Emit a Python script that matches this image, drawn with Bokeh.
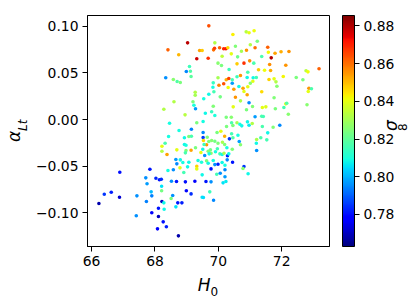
import numpy as np
from bokeh.plotting import figure
from bokeh.models import ColumnDataSource, LinearColorMapper, ColorBar, FixedTicker, LinearAxis
from bokeh.embed import file_html
from bokeh.resources import INLINE

h0 = [68.41, 68.34, 68.28, 68.46, 69.70, 69.03, 69.41, 69.49, 69.85, 69.88, 70.04, 70.17, 70.24, 70.30, 70.46, 70.88, 70.97, 69.89, 68.75, 69.32,
      69.68, 70.12, 70.41, 70.54, 70.73, 70.89, 70.61, 69.99, 70.10, 70.59, 70.81, 70.99, 69.09, 68.99, 69.12, 69.14, 68.58, 68.70, 68.80, 70.34,
      70.93, 69.99, 70.25, 70.33, 70.44, 70.59, 70.70, 70.91, 69.84, 70.44, 69.83, 70.02, 70.17, 70.31, 70.49, 70.65, 70.78, 70.93, 69.27, 69.27,
      69.70, 69.86, 70.81, 70.91, 70.54, 70.06, 69.54, 70.70, 70.97, 68.60, 69.20, 69.23, 69.84, 70.47, 70.89, 69.28, 68.95, 69.59, 69.79, 69.89,
      70.25, 70.41, 70.42, 70.46, 70.59, 70.68, 70.74, 70.92, 70.97, 69.32, 69.52, 68.76, 69.15, 70.08, 70.26, 71.13, 71.23, 71.01, 71.56, 71.16,
      71.58, 71.79, 71.98, 72.23, 71.37, 71.67, 71.12, 71.62, 72.13, 71.27, 71.46, 71.65, 72.77, 72.83, 73.18, 71.10, 71.20, 72.05, 71.60, 71.76,
      72.46, 72.67, 71.09, 71.01, 71.82, 71.85, 72.86, 72.94, 72.84, 71.37, 71.76, 72.13, 72.16, 72.07, 72.80, 71.39, 71.50, 71.08, 71.80, 72.21,
      71.16, 71.37, 71.42, 71.07, 71.94, 71.73, 71.39, 68.43, 68.32, 68.22, 68.22, 68.38, 68.41, 67.84, 66.89, 67.71, 68.03, 68.14, 68.20, 67.75,
      68.21, 68.21, 67.88, 67.90, 66.62, 66.40, 66.88, 67.43, 67.73, 68.22, 68.28, 66.23, 68.11, 68.29, 67.90, 67.41, 68.11, 68.26, 68.36, 68.08,
      68.93, 69.07, 69.15, 69.52, 69.96, 69.65, 69.52, 70.20, 70.42, 70.46, 70.62, 70.35, 69.53, 69.63, 69.55, 69.70, 69.79, 69.89, 69.99, 70.13,
      70.20, 70.66, 70.70, 68.93, 68.98, 69.28, 68.69, 68.98, 68.96, 69.14, 69.45, 69.51, 69.68, 69.75, 69.77, 69.91, 69.97, 70.05, 70.12, 70.18,
      70.27, 70.29, 70.33, 70.44, 69.57, 69.71, 68.66, 68.80, 68.88, 69.07, 69.36, 69.47, 69.63, 69.68, 69.84, 69.89, 69.99, 70.12, 70.21, 70.28,
      70.45, 68.69, 69.32, 69.32, 69.03, 68.79, 68.58, 69.77, 68.91, 69.49, 69.95, 70.06, 70.21, 70.81, 70.78, 70.94, 70.21, 68.52, 68.68, 68.96,
      69.26, 69.61, 69.77, 70.15, 70.24, 68.99, 69.14, 69.73, 68.56, 68.51, 69.49, 69.53, 69.85, 68.72, 68.85, 68.66, 68.74, 71.56, 71.34, 71.21,
      71.53, 71.20, 71.21]

alpha_lt = [0.0747, 0.0447, 0.0110, -0.0040, 0.1004, 0.0822, 0.0740, 0.0740, 0.0747, 0.0764, 0.0769, 0.0758, 0.0758, 0.0769, 0.0911, 0.0940, 0.0930, 0.0822, 0.0694, 0.0651,
            0.0657, 0.0679, 0.0704, 0.0786, 0.0732, 0.0743, 0.0672, 0.0604, 0.0579, 0.0597, 0.0604, 0.0629, 0.0568, 0.0515, 0.0518, 0.0461, 0.0429, 0.0407, 0.0397, 0.0536,
            0.0507, 0.0447, 0.0426, 0.0440, 0.0426, 0.0458, 0.0472, 0.0450, 0.0393, 0.0389, 0.0346, 0.0368, 0.0383, 0.0343, 0.0325, 0.0354, 0.0336, 0.0351, 0.0293, 0.0260,
            0.0271, 0.0297, 0.0300, 0.0265, 0.0239, 0.0243, 0.0222, 0.0200, 0.0179, 0.0190, 0.0190, 0.0153, 0.0143, 0.0136, 0.0104, 0.0115, 0.0050, 0.0068, 0.0083, 0.0043,
            0.0025, 0.0025, -0.0035, -0.0064, -0.0035, -0.0050, -0.0068, -0.0025, -0.0061, -0.0035, -0.0021, -0.0118, -0.0104, -0.0125, -0.0075, 0.0951, 0.0839, 0.0801, 0.0775, 0.0769,
            0.0721, 0.0711, 0.0726, 0.0729, 0.0675, 0.0661, 0.0604, 0.0590, 0.0582, 0.0533, 0.0529, 0.0525, 0.0522, 0.0511, 0.0544, 0.0447, 0.0450, 0.0461, 0.0429, 0.0436,
            0.0450, 0.0426, 0.0411, 0.0389, 0.0404, 0.0357, 0.0336, 0.0329, 0.0300, 0.0297, 0.0233, 0.0168, 0.0175, 0.0129, 0.0158, 0.0129, 0.0136, 0.0139, 0.0115, 0.0057,
            0.0029, 0.0035, 0.0032, -0.0043, -0.0061, -0.0083, -0.0075, -0.0182, -0.0254, -0.0286, -0.0340, -0.0375, -0.0547, -0.0533, -0.0565, -0.0625, -0.0629, -0.0646, -0.0640, -0.0689,
            -0.0715, -0.0764, -0.0775, -0.0818, -0.0779, -0.0801, -0.0833, -0.0818, -0.0879, -0.0879, -0.0893, -0.0900, -0.0951, -0.0962, -0.1000, -0.1032, -0.1040, -0.1097, -0.1150, -0.1172,
            -0.0196, -0.0182, -0.0179, -0.0139, -0.0139, -0.0190, -0.0193, -0.0179, -0.0153, -0.0196, -0.0168, -0.0207, -0.0225, -0.0271, -0.0268, -0.0236, -0.0225, -0.0233, -0.0254, -0.0243,
            -0.0268, -0.0236, -0.0271, -0.0268, -0.0276, -0.0303, -0.0325, -0.0332, -0.0357, -0.0329, -0.0354, -0.0318, -0.0340, -0.0325, -0.0361, -0.0346, -0.0314, -0.0368, -0.0375, -0.0361,
            -0.0303, -0.0389, -0.0368, -0.0318, -0.0386, -0.0368, -0.0429, -0.0432, -0.0461, -0.0458, -0.0440, -0.0458, -0.0443, -0.0468, -0.0440, -0.0483, -0.0479, -0.0461, -0.0490, -0.0432,
            -0.0458, -0.0475, -0.0501, -0.0529, -0.0507, -0.0518, -0.0539, -0.0529, -0.0568, -0.0593, -0.0586, -0.0576, -0.0539, -0.0504, -0.0525, -0.0582, -0.0614, -0.0661, -0.0665, -0.0668,
            -0.0661, -0.0665, -0.0668, -0.0679, -0.0665, -0.0764, -0.0797, -0.0775, -0.0815, -0.0847, -0.0833, -0.0836, -0.0865, -0.0893, -0.0893, -0.0936, -0.1247, -0.0143, -0.0196, -0.0214,
            -0.0218, -0.0254, -0.0332]

sigma8 = [0.862, 0.796, 0.832, 0.809, 0.864, 0.879, 0.853, 0.848, 0.860, 0.866, 0.862, 0.870, 0.872, 0.846, 0.843, 0.833, 0.840, 0.832, 0.851, 0.877,
          0.868, 0.834, 0.840, 0.825, 0.830, 0.855, 0.822, 0.826, 0.824, 0.848, 0.868, 0.856, 0.815, 0.795, 0.818, 0.819, 0.826, 0.818, 0.824, 0.815,
          0.817, 0.830, 0.852, 0.866, 0.816, 0.815, 0.855, 0.808, 0.814, 0.797, 0.809, 0.857, 0.864, 0.841, 0.854, 0.808, 0.853, 0.840, 0.832, 0.830,
          0.808, 0.816, 0.840, 0.853, 0.855, 0.823, 0.809, 0.831, 0.795, 0.832, 0.824, 0.810, 0.825, 0.840, 0.824, 0.797, 0.833, 0.808, 0.814, 0.810,
          0.824, 0.826, 0.817, 0.824, 0.830, 0.809, 0.808, 0.808, 0.807, 0.824, 0.809, 0.809, 0.794, 0.840, 0.824, 0.841, 0.824, 0.832, 0.862, 0.860,
          0.842, 0.853, 0.852, 0.855, 0.817, 0.880, 0.817, 0.856, 0.855, 0.848, 0.841, 0.852, 0.833, 0.841, 0.862, 0.808, 0.816, 0.842, 0.847, 0.840,
          0.824, 0.824, 0.840, 0.826, 0.832, 0.826, 0.855, 0.817, 0.840, 0.846, 0.825, 0.840, 0.818, 0.816, 0.826, 0.840, 0.839, 0.825, 0.824, 0.826,
          0.797, 0.817, 0.816, 0.832, 0.795, 0.825, 0.817, 0.809, 0.817, 0.840, 0.832, 0.853, 0.809, 0.781, 0.780, 0.796, 0.783, 0.781, 0.784, 0.797,
          0.806, 0.823, 0.801, 0.794, 0.782, 0.785, 0.772, 0.796, 0.794, 0.770, 0.808, 0.768, 0.781, 0.808, 0.778, 0.796, 0.770, 0.780, 0.782, 0.777,
          0.808, 0.825, 0.817, 0.795, 0.824, 0.825, 0.785, 0.852, 0.816, 0.818, 0.809, 0.785, 0.846, 0.855, 0.815, 0.824, 0.826, 0.823, 0.825, 0.831,
          0.825, 0.797, 0.826, 0.808, 0.809, 0.824, 0.840, 0.825, 0.817, 0.853, 0.840, 0.808, 0.825, 0.823, 0.826, 0.809, 0.816, 0.816, 0.808, 0.831,
          0.809, 0.783, 0.808, 0.825, 0.796, 0.809, 0.797, 0.808, 0.809, 0.808, 0.809, 0.810, 0.824, 0.808, 0.809, 0.796, 0.782, 0.808, 0.809, 0.795,
          0.781, 0.795, 0.847, 0.840, 0.808, 0.840, 0.796, 0.780, 0.816, 0.808, 0.816, 0.796, 0.795, 0.785, 0.826, 0.808, 0.797, 0.796, 0.781, 0.780,
          0.778, 0.781, 0.796, 0.806, 0.807, 0.779, 0.784, 0.815, 0.796, 0.824, 0.806, 0.805, 0.795, 0.781, 0.782, 0.806, 0.768, 0.808, 0.817, 0.831,
          0.816, 0.808, 0.796]

x_ticks = [66, 68, 70, 72]
x_tick_labels = ["66", "68", "70", "72"]
y_ticks = [-0.10, -0.05, 0.00, 0.05, 0.10]
y_tick_labels = ["\u22120.10", "\u22120.05", "0.00", "0.05", "0.10"]
cb_ticks = [0.78, 0.80, 0.82, 0.84, 0.86, 0.88]
cb_tick_labels = ["0.78", "0.80", "0.82", "0.84", "0.86", "0.88"]
sigma8_low, sigma8_high = 0.763, 0.8855
x_lim = (65.87, 73.51)
y_lim = (-0.1361, 0.1115)


def jet_palette(n=256):
    t = np.linspace(0, 1, n)
    r = np.interp(t, [0, 0.35, 0.66, 0.89, 1], [0, 0, 1, 1, 0.5])
    g = np.interp(t, [0, 0.125, 0.375, 0.64, 0.91, 1], [0, 0, 1, 1, 0, 0])
    b = np.interp(t, [0, 0.11, 0.34, 0.65, 1], [0.5, 1, 1, 0, 0])
    return ["#%02x%02x%02x" % (int(round(255 * a)), int(round(255 * c)), int(round(255 * d)))
            for a, c, d in zip(r, g, b)]


FONT = "DejaVu Sans"
TICK_SIZE = "13.9px"
NB = "\u00a0"

source = ColumnDataSource(dict(h0=h0, alpha=alpha_lt, s8=sigma8))
mapper = LinearColorMapper(palette=jet_palette(), low=sigma8_low, high=sigma8_high)

p = figure(frame_width=242, frame_height=231, x_range=x_lim, y_range=y_lim,
           output_backend="svg", toolbar_location=None,
           min_border_left=85, min_border_right=80, min_border_top=15, min_border_bottom=54)
p.background_fill_color = "white"
p.border_fill_color = "white"
p.outline_line_color = "black"
p.outline_line_width = 1
p.xgrid.visible = False
p.ygrid.visible = False

p.scatter("h0", "alpha", source=source, size=3.6, marker="circle",
          fill_color={"field": "s8", "transform": mapper}, line_color=None)

for ax in (p.xaxis[0], p.yaxis[0]):
    ax.axis_line_color = "black"
    ax.axis_line_width = 1
    ax.major_tick_line_color = "black"
    ax.major_tick_line_width = 1
    ax.major_tick_out = 5
    ax.major_tick_in = 0
    ax.minor_tick_line_color = None
    ax.major_label_text_font = FONT
    ax.major_label_text_font_size = TICK_SIZE
    ax.major_label_text_color = "black"
    ax.major_label_standoff = 4
    ax.axis_label_text_font = FONT
    ax.axis_label_text_color = "black"

p.xaxis.ticker = FixedTicker(ticks=x_ticks)
p.xaxis.major_label_overrides = dict(zip(x_ticks, x_tick_labels))
p.yaxis.ticker = FixedTicker(ticks=y_ticks)
p.yaxis.major_label_overrides = dict(zip(y_ticks, y_tick_labels))

# axis titles: main symbol on the axis, subscript on a bare helper axis
p.xaxis.axis_label = "H" + NB + "\u2009"
p.xaxis.axis_label_text_font_size = "17px"
p.xaxis.axis_label_text_font_style = "italic"
p.xaxis.axis_label_standoff = 6

p.yaxis.axis_label = NB * 3 + "Lt"
p.yaxis.axis_label_text_font_size = "12px"
p.yaxis.axis_label_text_font_style = "italic"
p.yaxis.axis_label_standoff = 3


def label_axis(text, size, italic, standoff, orientation=None):
    ax = LinearAxis(ticker=FixedTicker(ticks=[]), axis_label=text,
                    axis_label_standoff=standoff, axis_label_text_font=FONT,
                    axis_label_text_font_size=size, axis_label_text_color="black",
                    axis_label_text_font_style="italic" if italic else "normal",
                    axis_line_color=None, major_tick_line_color=None,
                    minor_tick_line_color=None, major_tick_out=0, major_tick_in=0,
                    minor_tick_out=0, minor_tick_in=0, major_label_text_font_size="0px")
    if orientation is not None:
        ax.axis_label_orientation = orientation
    return ax


p.add_layout(label_axis(NB * 3 + "0", "12px", False, -13), "below")
p.add_layout(label_axis("\u03b1" + NB * 2, "17px", True, -11), "left")

cb = ColorBar(color_mapper=mapper, ticker=FixedTicker(ticks=cb_ticks),
              major_label_overrides=dict(zip(cb_ticks, cb_tick_labels)),
              width=12, height=231, padding=0, margin=0, location=(13, 0),
              major_tick_in=0, major_tick_out=5, major_tick_line_color="black",
              minor_tick_line_color=None, label_standoff=4,
              major_label_text_font=FONT, major_label_text_font_size=TICK_SIZE,
              major_label_text_color="black",
              bar_line_color="black", bar_line_width=1,
              border_line_color=None, background_fill_color=None)
p.add_layout(cb, "right")
p.add_layout(label_axis("\u03c3", "17px", True, -7, orientation=-1.5 * np.pi), "right")
p.add_layout(label_axis("8", "12px", False, -11, orientation=0.5 * np.pi), "right")

open("out.html", "w").write(file_html(p, INLINE))
